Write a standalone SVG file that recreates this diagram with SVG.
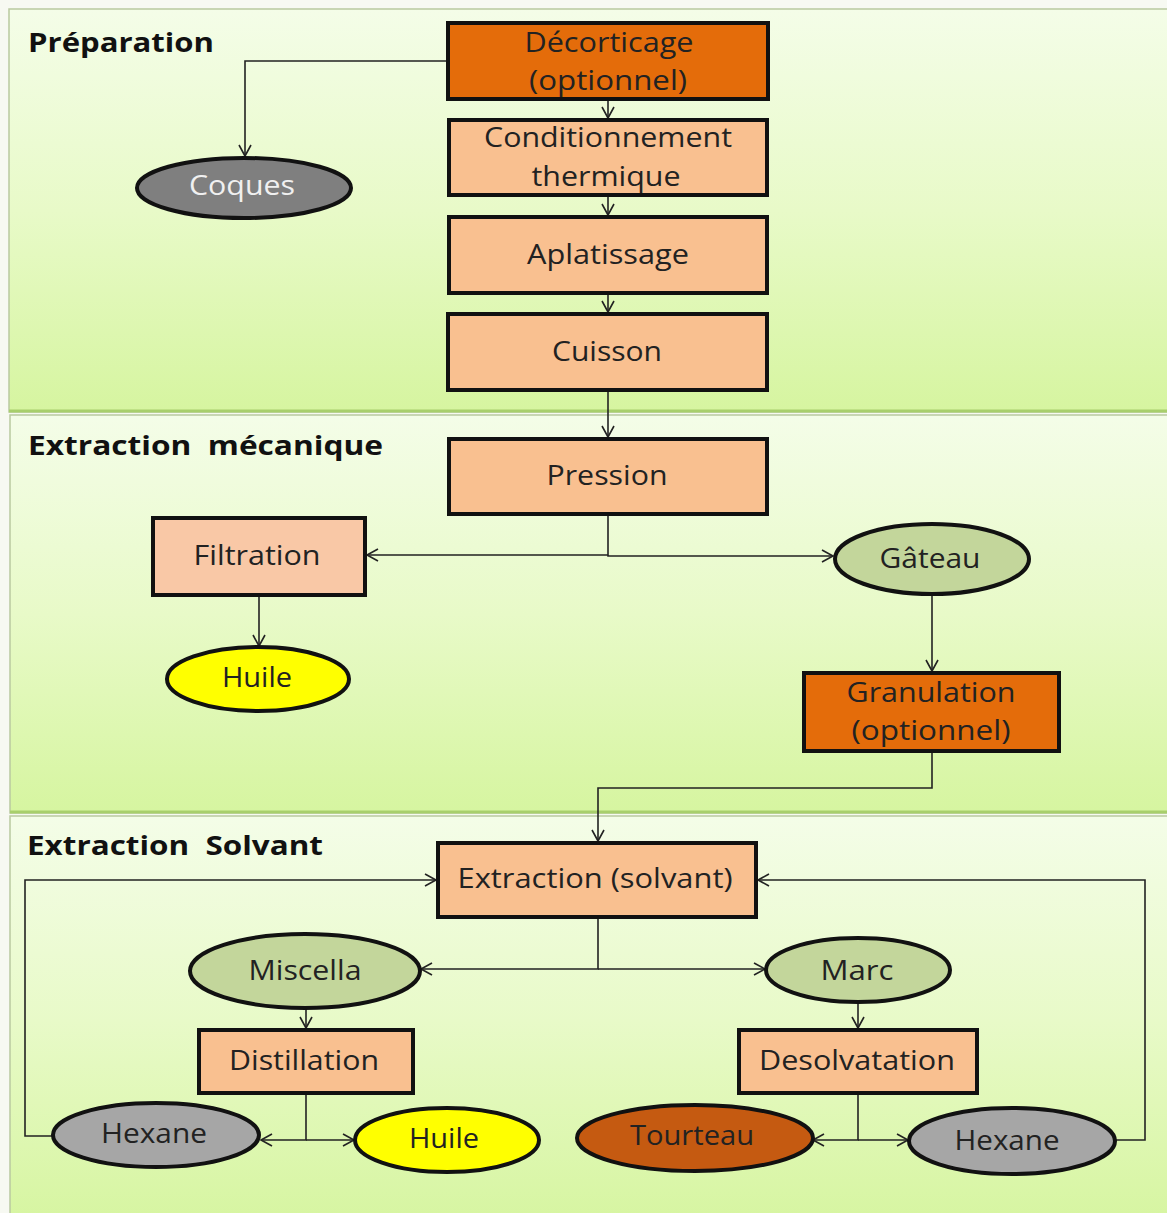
<svg xmlns="http://www.w3.org/2000/svg" width="1167" height="1213" viewBox="0 0 1167 1213">
<defs>
<linearGradient id="pg" x1="0" y1="0" x2="0" y2="1">
<stop offset="0" stop-color="#f4fde8"/>
<stop offset="0.5" stop-color="#e8fac8"/>
<stop offset="1" stop-color="#d6f5a0"/>
</linearGradient>
<marker id="ar" markerUnits="userSpaceOnUse" markerWidth="16" markerHeight="16" refX="12" refY="7" orient="auto">
<path d="M1,1 L12,7 L1,13" fill="none" stroke="#222" stroke-width="1.6"/>
</marker>
<style>
.panel{fill:url(#pg);stroke:#b9c9a0;stroke-width:1.5}
.pedge{stroke:#a8cf6c;stroke-width:3}
.box{stroke:#111;stroke-width:4}
.dark{fill:#e46c0a}
.light{fill:#f9c090}
.ell{stroke:#111;stroke-width:4}
.olive{fill:#c3d69b}
.yel{fill:#ffff00}
.gray{fill:#a6a6a6}
.dgray{fill:#7f7f7f}
.brown{fill:#c55a11}
.lbl{font-family:"Open Sans","Liberation Sans",sans-serif;font-size:28px;fill:#222;text-anchor:middle}
.hd{font-family:"Open Sans","Liberation Sans",sans-serif;font-size:27px;font-weight:bold;fill:#111;white-space:pre}
.conn path{fill:none;stroke:#222;stroke-width:1.6}
</style>
</defs>
<rect width="1167" height="1213" fill="#f7f9f2"/>
<g id="panels">
<rect class="panel" x="9" y="9" width="1170" height="403"/>
<line class="pedge" x1="9" y1="411" x2="1167" y2="411"/>
<rect class="panel" x="10" y="415" width="1170" height="398"/>
<line class="pedge" x1="10" y1="812" x2="1167" y2="812"/>
<rect class="panel" x="10" y="816" width="1170" height="410"/>
</g>
<g id="headings">
<text class="hd" x="28" y="52" textLength="186" lengthAdjust="spacingAndGlyphs">Préparation</text>
<text class="hd" x="28" y="455" textLength="355" lengthAdjust="spacingAndGlyphs" xml:space="preserve">Extraction  mécanique</text>
<text class="hd" x="27" y="855" textLength="296" lengthAdjust="spacingAndGlyphs" xml:space="preserve">Extraction  Solvant</text>
</g>
<g id="connectors" class="conn">
<path d="M446,61 H245 V156" marker-end="url(#ar)"/>
<path d="M608,101 V118" marker-end="url(#ar)"/>
<path d="M608,197 V215" marker-end="url(#ar)"/>
<path d="M608,295 V312" marker-end="url(#ar)"/>
<path d="M608,392 V437" marker-end="url(#ar)"/>
<path d="M608,516 V555 H367" marker-end="url(#ar)"/>
<path d="M608,555 V556 H833" marker-end="url(#ar)"/>
<path d="M259,597 V646" marker-end="url(#ar)"/>
<path d="M932,595 V671" marker-end="url(#ar)"/>
<path d="M932,753 V788 H598 V841" marker-end="url(#ar)"/>
<path d="M598,919 V969 H421" marker-end="url(#ar)"/>
<path d="M598,969 H765" marker-end="url(#ar)"/>
<path d="M306,1009 V1028" marker-end="url(#ar)"/>
<path d="M858,1003 V1028" marker-end="url(#ar)"/>
<path d="M306,1095 V1140 H261" marker-end="url(#ar)"/>
<path d="M306,1140 H354" marker-end="url(#ar)"/>
<path d="M858,1095 V1140 H813" marker-end="url(#ar)"/>
<path d="M858,1140 H908" marker-end="url(#ar)"/>
<path d="M53,1136 H25 V880 H436" marker-end="url(#ar)"/>
<path d="M1115,1140 H1145 V880 H758" marker-end="url(#ar)"/>
</g>
<g id="decorticage">
<rect class="box dark" x="448" y="23" width="320" height="76"/>
<text class="lbl" x="609" y="52" textLength="169" lengthAdjust="spacingAndGlyphs">Décorticage</text>
<text class="lbl" x="608" y="90" textLength="158" lengthAdjust="spacingAndGlyphs">(optionnel)</text>
</g>
<g id="conditionnement">
<rect class="box light" x="449" y="120" width="318" height="75"/>
<text class="lbl" x="608" y="147" textLength="248" lengthAdjust="spacingAndGlyphs">Conditionnement</text>
<text class="lbl" x="606" y="186" textLength="149" lengthAdjust="spacingAndGlyphs">thermique</text>
</g>
<g id="aplatissage">
<rect class="box light" x="449" y="217" width="318" height="76"/>
<text class="lbl" x="608" y="264" textLength="162" lengthAdjust="spacingAndGlyphs">Aplatissage</text>
</g>
<g id="cuisson">
<rect class="box light" x="448" y="314" width="319" height="76"/>
<text class="lbl" x="607" y="361" textLength="110" lengthAdjust="spacingAndGlyphs">Cuisson</text>
</g>
<g id="coques">
<ellipse class="ell dgray" cx="244" cy="188" rx="107" ry="30"/>
<text class="lbl" x="242" y="195" textLength="106" lengthAdjust="spacingAndGlyphs" style="fill:#f0f0f0">Coques</text>
</g>
<g id="pression">
<rect class="box light" x="449" y="439" width="318" height="75"/>
<text class="lbl" x="607" y="485" textLength="121" lengthAdjust="spacingAndGlyphs">Pression</text>
</g>
<g id="filtration">
<rect class="box light" x="153" y="518" width="212" height="77" style="fill:#f9c8a6"/>
<text class="lbl" x="257" y="565" textLength="127" lengthAdjust="spacingAndGlyphs">Filtration</text>
</g>
<g id="gateau">
<ellipse class="ell olive" cx="932" cy="559" rx="97" ry="35"/>
<text class="lbl" x="930" y="568" textLength="101" lengthAdjust="spacingAndGlyphs">Gâteau</text>
</g>
<g id="huile1">
<ellipse class="ell yel" cx="258" cy="679" rx="91" ry="32"/>
<text class="lbl" x="257" y="687" textLength="70" lengthAdjust="spacingAndGlyphs">Huile</text>
</g>
<g id="granulation">
<rect class="box dark" x="804" y="673" width="255" height="78"/>
<text class="lbl" x="931" y="702" textLength="169" lengthAdjust="spacingAndGlyphs">Granulation</text>
<text class="lbl" x="931" y="740" textLength="159" lengthAdjust="spacingAndGlyphs">(optionnel)</text>
</g>
<g id="extraction">
<rect class="box light" x="438" y="843" width="318" height="74"/>
<text class="lbl" x="595" y="888" textLength="275" lengthAdjust="spacingAndGlyphs">Extraction (solvant)</text>
</g>
<g id="miscella">
<ellipse class="ell olive" cx="305" cy="971" rx="115" ry="37"/>
<text class="lbl" x="305" y="980" textLength="113" lengthAdjust="spacingAndGlyphs">Miscella</text>
</g>
<g id="marc">
<ellipse class="ell olive" cx="858" cy="970" rx="92" ry="32"/>
<text class="lbl" x="857" y="980" textLength="73" lengthAdjust="spacingAndGlyphs">Marc</text>
</g>
<g id="distillation">
<rect class="box light" x="199" y="1030" width="214" height="63"/>
<text class="lbl" x="304" y="1070" textLength="150" lengthAdjust="spacingAndGlyphs">Distillation</text>
</g>
<g id="desolvatation">
<rect class="box light" x="739" y="1030" width="238" height="63"/>
<text class="lbl" x="857" y="1070" textLength="196" lengthAdjust="spacingAndGlyphs">Desolvatation</text>
</g>
<g id="hexane1">
<ellipse class="ell gray" cx="156" cy="1135" rx="103" ry="32"/>
<text class="lbl" x="154" y="1143" textLength="106" lengthAdjust="spacingAndGlyphs">Hexane</text>
</g>
<g id="huile2">
<ellipse class="ell yel" cx="447" cy="1140" rx="92" ry="32"/>
<text class="lbl" x="444" y="1148" textLength="70" lengthAdjust="spacingAndGlyphs">Huile</text>
</g>
<g id="tourteau">
<ellipse class="ell brown" cx="695" cy="1138" rx="118" ry="33"/>
<text class="lbl" x="692" y="1145" textLength="124" lengthAdjust="spacingAndGlyphs">Tourteau</text>
</g>
<g id="hexane2">
<ellipse class="ell gray" cx="1012" cy="1141" rx="103" ry="33"/>
<text class="lbl" x="1007" y="1150" textLength="105" lengthAdjust="spacingAndGlyphs">Hexane</text>
</g>
</svg>
